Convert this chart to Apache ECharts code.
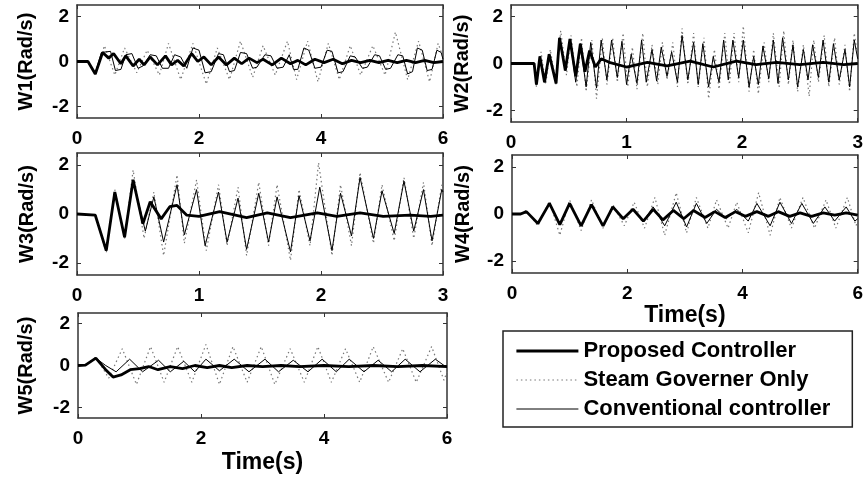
<!DOCTYPE html>
<html>
<head>
<meta charset="utf-8">
<script src="https://cdn.jsdelivr.net/npm/echarts@6/dist/echarts.min.js"></script>
<style>html,body{margin:0;padding:0;background:#fff}#c{width:866px;height:477px}</style>
</head>
<body>
<div id="c"></div>
<script>
// ---------- data: [time (s), speed deviation (Rad/s)] ----------
const seriesNames = ['Proposed Controller', 'Steam Governer Only', 'Conventional controller'];
const panelNames = ['W1(Rad/s)', 'W2(Rad/s)', 'W3(Rad/s)', 'W4(Rad/s)', 'W5(Rad/s)'];
const panelXMax = [6, 3, 3, 6, 6];
const panelXStep = [2, 1, 1, 2, 2];
const yTicks = [-2, 0, 2];

const w1Proposed = [[0,0],[0.18,0],[0.3,-0.55],[0.42,0.4],[0.52,0.15],[0.6,0.35],[0.72,-0.1],[0.8,0.25],[0.92,-0.2],[1.02,0.1],[1.1,-0.15],[1.2,0.2],[1.32,-0.15],[1.45,0.25],[1.55,-0.15],[1.65,0.05],[1.75,-0.2],[1.88,0.35],[1.98,0.0],[2.08,0.2],[2.2,-0.15],[2.32,0.2],[2.45,-0.15],[2.58,0.15],[2.7,-0.1],[2.82,0.15],[2.95,-0.05],[3.05,0.1],[3.2,-0.15],[3.35,0.15],[3.5,-0.1],[3.62,0.05],[3.75,-0.15],[3.9,0.1],[4.05,-0.05],[4.2,0.1],[4.35,-0.1],[4.5,0.05],[4.65,-0.05],[4.8,0.05],[4.95,-0.05],[5.1,0.05],[5.25,-0.05],[5.4,0.05],[5.55,-0.05],[5.7,0.05],[5.85,-0.05],[6,0]];
const w1Steam = [[0,0],[0.18,0],[0.3,-0.6],[0.45,0.7],[0.62,-0.6],[0.78,0.6],[0.98,-0.5],[1.15,0.5],[1.35,-0.6],[1.5,0.8],[1.7,-0.8],[1.9,0.8],[2.12,-1.0],[2.3,0.6],[2.5,-0.8],[2.68,0.9],[2.88,-0.7],[3.05,0.7],[3.25,-0.6],[3.45,0.9],[3.6,-0.8],[3.78,0.9],[3.95,-0.9],[4.12,0.8],[4.3,-0.8],[4.48,0.7],[4.65,-0.6],[4.85,0.7],[5.05,-0.6],[5.22,1.3],[5.42,-0.8],[5.6,0.9],[5.78,-0.9],[5.92,0.8],[6,0.2]];
const w1Conventional = [[0,0],[0.18,0],[0.3,-0.5],[0.4,0.4],[0.55,0.45],[0.63,-0.4],[0.72,-0.35],[0.8,0.3],[0.9,0.35],[1.0,-0.3],[1.08,-0.2],[1.2,0.3],[1.3,0.25],[1.4,-0.3],[1.5,-0.3],[1.6,0.3],[1.7,0.2],[1.8,-0.3],[1.9,0.6],[2.0,0.5],[2.1,-0.5],[2.2,-0.45],[2.32,0.35],[2.4,0.3],[2.5,-0.45],[2.58,-0.4],[2.68,0.4],[2.78,0.35],[2.88,-0.3],[2.95,-0.25],[3.08,0.3],[3.18,0.25],[3.28,-0.3],[3.38,-0.25],[3.48,0.3],[3.55,-0.35],[3.62,-0.35],[3.72,0.6],[3.8,0.5],[3.9,-0.3],[4.0,-0.25],[4.1,0.5],[4.18,0.45],[4.28,-0.5],[4.36,-0.45],[4.48,0.25],[4.56,0.2],[4.68,-0.3],[4.76,-0.25],[4.88,0.3],[4.96,0.25],[5.06,-0.35],[5.14,-0.3],[5.26,0.3],[5.34,0.25],[5.42,-0.55],[5.5,-0.45],[5.58,0.6],[5.66,0.5],[5.74,-0.4],[5.82,-0.35],[5.9,0.5],[5.97,0.4],[6,0.1]];

const w2Proposed = [[0,0],[0.2,0],[0.22,-0.9],[0.25,0.3],[0.29,-0.8],[0.33,0.4],[0.39,-0.85],[0.42,1.1],[0.47,-0.3],[0.51,1.05],[0.56,-0.55],[0.6,0.85],[0.64,-0.35],[0.68,0.55],[0.73,-0.15],[0.78,0.2],[0.85,0.05],[1.0,-0.15],[1.18,0.05],[1.35,-0.1],[1.55,0.1],[1.75,-0.15],[1.95,0.1],[2.12,-0.05],[2.3,0.05],[2.5,-0.05],[2.7,0.05],[2.88,-0.05],[3,0]];
const w2Steam = [[0,0],[0.2,0],[0.22,-1.0],[0.26,0.5],[0.3,-0.9],[0.34,0.6],[0.39,-0.9],[0.43,1.4],[0.48,-0.5],[0.52,1.2],[0.57,-1.0],[0.61,1.1],[0.65,-1.2],[0.7,1.0],[0.74,-1.5],[0.79,1.1],[0.83,-0.9],[0.88,1.1],[0.92,-0.8],[0.97,1.3],[1.01,-1.0],[1.05,0.7],[1.09,-1.1],[1.14,1.3],[1.18,-1.0],[1.22,0.8],[1.27,-0.9],[1.31,0.9],[1.35,-0.7],[1.4,0.9],[1.44,-1.0],[1.48,1.5],[1.53,-0.9],[1.58,1.3],[1.62,-1.0],[1.67,1.1],[1.71,-1.5],[1.76,0.6],[1.8,-1.1],[1.85,1.3],[1.89,-0.9],[1.93,1.3],[1.97,-0.8],[2.01,1.6],[2.06,-1.2],[2.1,0.6],[2.14,-1.3],[2.19,0.9],[2.23,-0.8],[2.27,1.3],[2.32,-1.0],[2.36,1.4],[2.4,-0.9],[2.44,1.0],[2.48,-1.2],[2.53,0.8],[2.58,-1.4],[2.62,1.0],[2.66,-0.8],[2.71,1.2],[2.75,-1.0],[2.8,1.1],[2.84,-0.9],[2.89,0.8],[2.93,-1.2],[2.97,1.3],[3.0,0.3]];
const w2Conventional = [[0,0],[0.2,0],[0.22,-0.9],[0.25,0.3],[0.29,-0.8],[0.33,0.4],[0.39,-0.85],[0.42,1.1],[0.47,-0.3],[0.51,1.05],[0.56,-0.8],[0.6,0.85],[0.65,-1.0],[0.69,0.9],[0.74,-1.05],[0.78,1.0],[0.83,-0.7],[0.87,1.0],[0.92,-0.6],[0.96,0.95],[1.0,-0.9],[1.04,0.4],[1.09,-0.85],[1.13,1.0],[1.17,-0.8],[1.22,0.6],[1.26,-0.75],[1.3,0.7],[1.35,-0.55],[1.39,0.5],[1.44,-0.8],[1.48,1.2],[1.53,-0.7],[1.58,0.9],[1.62,-0.9],[1.66,0.85],[1.71,-1.0],[1.75,0.3],[1.8,-0.8],[1.84,1.0],[1.88,-0.7],[1.92,1.0],[1.97,-0.6],[2.01,1.0],[2.06,-1.0],[2.1,0.3],[2.14,-0.9],[2.18,0.75],[2.23,-0.65],[2.27,1.0],[2.31,-0.85],[2.35,1.1],[2.4,-0.7],[2.44,0.8],[2.48,-1.0],[2.53,0.6],[2.57,-0.7],[2.61,0.8],[2.66,-0.6],[2.7,1.0],[2.75,-0.8],[2.79,0.85],[2.84,-0.7],[2.89,0.6],[2.93,-1.0],[2.97,1.0],[3.0,0.2]];

const w3Proposed = [[0,0],[0.15,-0.05],[0.24,-1.5],[0.31,0.9],[0.39,-0.95],[0.46,1.4],[0.54,-0.4],[0.6,0.5],[0.69,-0.2],[0.76,0.3],[0.82,0.35],[0.9,-0.05],[1.0,-0.1],[1.17,0.1],[1.39,-0.15],[1.56,0.05],[1.75,-0.15],[1.97,0.05],[2.13,-0.1],[2.32,0.05],[2.51,-0.1],[2.73,-0.05],[2.9,-0.1],[3,-0.05]];
const w3Steam = [[0,0],[0.15,-0.05],[0.24,-1.6],[0.31,1.0],[0.39,-1.0],[0.46,1.8],[0.55,-1.0],[0.63,0.9],[0.71,-1.7],[0.82,1.6],[0.88,-1.2],[0.98,1.4],[1.06,-1.5],[1.16,1.2],[1.23,-1.3],[1.32,1.1],[1.39,-1.7],[1.49,1.3],[1.57,-1.3],[1.64,1.2],[1.75,-1.9],[1.82,1.0],[1.91,-1.3],[1.98,2.1],[2.09,-1.7],[2.16,1.2],[2.25,-1.3],[2.32,1.7],[2.43,-1.2],[2.5,1.2],[2.6,-1.1],[2.68,1.5],[2.76,-1.0],[2.84,1.3],[2.91,-1.3],[2.99,1.2],[3,1.0]];
const w3Conventional = [[0,0],[0.15,-0.05],[0.24,-1.5],[0.31,0.9],[0.39,-0.95],[0.46,1.4],[0.56,-0.7],[0.63,0.7],[0.71,-1.15],[0.82,1.2],[0.88,-0.85],[0.98,1.0],[1.05,-1.3],[1.16,0.9],[1.23,-1.15],[1.32,0.65],[1.39,-1.45],[1.49,0.85],[1.57,-1.15],[1.64,0.7],[1.75,-1.55],[1.82,0.75],[1.91,-1.1],[1.99,1.1],[2.09,-1.5],[2.16,0.85],[2.25,-0.9],[2.32,1.5],[2.43,-1.0],[2.5,0.95],[2.6,-0.8],[2.68,1.35],[2.76,-0.7],[2.84,1.0],[2.91,-1.1],[2.99,1.0],[3,0.9]];

const w4Proposed = [[0,0],[0.15,0],[0.25,0.1],[0.45,-0.4],[0.65,0.45],[0.83,-0.45],[1.0,0.45],[1.2,-0.5],[1.38,0.4],[1.58,-0.5],[1.75,0.3],[1.93,-0.2],[2.1,0.2],[2.28,-0.3],[2.45,0.2],[2.62,-0.25],[2.8,0.15],[2.98,-0.2],[3.15,0.15],[3.35,-0.15],[3.52,0.1],[3.7,-0.15],[3.88,0.1],[4.05,-0.1],[4.25,0.1],[4.45,-0.1],[4.62,0.1],[4.82,-0.1],[5.0,0.05],[5.2,-0.1],[5.4,0.05],[5.6,-0.05],[5.8,0.05],[6,-0.05]];
const w4Steam = [[0,0],[0.15,0],[0.25,0.15],[0.45,-0.5],[0.65,0.55],[0.83,-0.9],[1.0,0.6],[1.2,-0.7],[1.38,0.6],[1.58,-0.6],[1.75,0.4],[1.95,-0.5],[2.12,0.5],[2.3,-0.6],[2.48,0.7],[2.65,-0.9],[2.85,0.9],[3.03,-0.8],[3.2,0.7],[3.4,-0.6],[3.55,0.6],[3.75,-0.6],[3.9,0.5],[4.1,-0.8],[4.28,0.9],[4.48,-0.9],[4.65,0.7],[4.85,-0.6],[5.05,0.7],[5.25,-0.6],[5.45,0.6],[5.62,-0.6],[5.82,0.7],[5.97,-0.5],[6,-0.3]];
const w4Conventional = [[0,0],[0.15,0],[0.25,0.1],[0.45,-0.4],[0.65,0.45],[0.83,-0.45],[1.0,0.45],[1.2,-0.5],[1.38,0.4],[1.58,-0.5],[1.75,0.3],[1.93,-0.2],[2.1,0.2],[2.28,-0.3],[2.45,0.3],[2.65,-0.5],[2.85,0.5],[3.03,-0.55],[3.2,0.45],[3.38,-0.4],[3.55,0.2],[3.72,-0.2],[3.9,0.2],[4.1,-0.3],[4.25,0.45],[4.48,-0.5],[4.65,0.5],[4.85,-0.4],[5.03,0.45],[5.23,-0.4],[5.43,0.3],[5.6,-0.3],[5.8,0.3],[5.95,-0.3],[6,-0.2]];

const w5Proposed = [[0,0],[0.12,0.02],[0.29,0.35],[0.45,-0.2],[0.57,-0.55],[0.7,-0.45],[0.85,-0.2],[1.0,-0.15],[1.15,-0.05],[1.3,-0.2],[1.5,-0.05],[1.7,-0.15],[1.9,0.0],[2.1,-0.1],[2.3,0.0],[2.5,-0.1],[2.75,0.0],[3.0,-0.05],[3.3,0.0],[3.6,-0.05],[4.0,0.0],[4.4,-0.05],[4.8,0.0],[5.2,-0.05],[5.6,0.0],[6,-0.05]];
const w5Steam = [[0,0],[0.12,0.02],[0.29,0.4],[0.5,-0.6],[0.72,0.8],[0.95,-0.9],[1.18,0.9],[1.4,-0.8],[1.62,0.9],[1.85,-0.8],[2.08,1.0],[2.3,-0.9],[2.52,0.9],[2.75,-0.8],[2.98,0.9],[3.2,-0.9],[3.45,0.8],[3.68,-0.8],[3.9,0.9],[4.12,-0.8],[4.35,0.8],[4.58,-0.8],[4.8,0.9],[5.05,-0.8],[5.28,0.8],[5.5,-0.8],[5.75,0.9],[5.95,-0.7],[6,-0.3]];
const w5Conventional = [[0,0],[0.12,0.02],[0.29,0.35],[0.45,0.0],[0.62,-0.3],[0.84,0.3],[1.05,-0.3],[1.31,0.25],[1.5,-0.3],[1.72,0.2],[1.9,-0.3],[2.08,0.3],[2.3,-0.25],[2.54,0.3],[2.78,-0.3],[3.04,0.3],[3.26,-0.3],[3.5,0.25],[3.74,-0.3],[3.97,0.3],[4.2,-0.3],[4.41,0.3],[4.65,-0.3],[4.88,0.25],[5.1,-0.3],[5.32,0.3],[5.56,-0.3],[5.81,0.3],[6,-0.1]];

const panelData = [
  [w1Proposed, w1Steam, w1Conventional],
  [w2Proposed, w2Steam, w2Conventional],
  [w3Proposed, w3Steam, w3Conventional],
  [w4Proposed, w4Steam, w4Conventional],
  [w5Proposed, w5Steam, w5Conventional]
];

// ---------- layout ----------
const FONT = 'Liberation Sans, Arial, sans-serif';
const grids = [
  {left: 77, top: 5, width: 366, height: 113},
  {left: 511, top: 5, width: 347, height: 117},
  {left: 77, top: 153, width: 366, height: 122},
  {left: 512, top: 155, width: 346, height: 118},
  {left: 78, top: 313, width: 369, height: 105}
];
const xNames = ['', '', '', 'Time(s)', 'Time(s)'];
const xNameGaps = [30, 30, 30, 29, 33];
const yNameGaps = [41, 39, 40, 39, 42];

const styles = [
  {color: '#000', width: 2.8, type: 'solid', z: 5},
  {color: '#777', width: 1.2, type: [1.5, 3], z: 2},
  {color: '#000', width: 1, type: 'solid', z: 3}
];

const axisLine = {show: true, onZero: false, lineStyle: {color: '#333', width: 1.5}};
const tick = {show: true, inside: true, length: 4, lineStyle: {color: '#333', width: 1}};
const xAxes = [], yAxes = [], series = [];
grids.forEach((g, i) => {
  const common = {type: 'value', gridIndex: i, min: 0, max: panelXMax[i], interval: panelXStep[i], splitLine: {show: false}, axisLine: axisLine};
  xAxes.push(Object.assign({}, common, {
    position: 'bottom', axisTick: tick,
    axisLabel: {fontSize: 19, fontWeight: 'bold', color: '#000', fontFamily: FONT, margin: 11},
    name: xNames[i], nameLocation: 'middle', nameGap: xNameGaps[i],
    nameTextStyle: {fontSize: 23, fontWeight: 'bold', color: '#000', fontFamily: FONT, verticalAlign: 'top'}
  }));
  xAxes.push(Object.assign({}, common, {position: 'top', axisTick: tick, axisLabel: {show: false}}));
  const ycommon = {type: 'value', gridIndex: i, min: -2.5, max: 2.5, splitLine: {show: false}, axisLine: axisLine};
  yAxes.push(Object.assign({}, ycommon, {
    position: 'left',
    axisTick: Object.assign({}, tick, {customValues: yTicks}),
    axisLabel: {customValues: yTicks, fontSize: 19, fontWeight: 'bold', color: '#000', fontFamily: FONT, margin: 8},
    name: panelNames[i], nameLocation: 'middle', nameGap: yNameGaps[i], nameRotate: 90,
    nameTextStyle: {fontSize: 20, fontWeight: 'bold', color: '#000', fontFamily: FONT}
  }));
  yAxes.push(Object.assign({}, ycommon, {
    position: 'right',
    axisTick: Object.assign({}, tick, {customValues: yTicks}),
    axisLabel: {show: false, customValues: yTicks}
  }));
  panelData[i].forEach((d, k) => {
    const s = styles[k];
    series.push({
      type: 'line', name: seriesNames[k], xAxisIndex: 2 * i, yAxisIndex: 2 * i,
      data: d, showSymbol: false, symbol: 'none', z: s.z, silent: true,
      lineStyle: {color: s.color, width: s.width, type: s.type},
      itemStyle: {color: s.color}
    });
  });
});

const chart = echarts.init(document.getElementById('c'), null, {renderer: 'canvas'});
chart.setOption({
  animation: false,
  backgroundColor: '#fff',
  textStyle: {fontFamily: FONT},
  grid: grids.map(g => Object.assign({containLabel: false}, g)),
  xAxis: xAxes,
  yAxis: yAxes,
  legend: {
    data: seriesNames.map((n, k) => ({
      name: n,
      lineStyle: {color: styles[k].color, width: styles[k].width, type: styles[k].type}
    })),
    orient: 'vertical', left: 503, top: 331,
    itemWidth: 62, itemHeight: 14, itemGap: 7,
    padding: [9, 22, 7, 12],
    borderColor: '#222', borderWidth: 1.5, backgroundColor: '#fff',
    selectedMode: false,
    itemStyle: {opacity: 0, borderWidth: 0},
    textStyle: {fontSize: 22, fontWeight: 'bold', color: '#000', fontFamily: FONT}
  },
  series: series
});
</script>
</body>
</html>
